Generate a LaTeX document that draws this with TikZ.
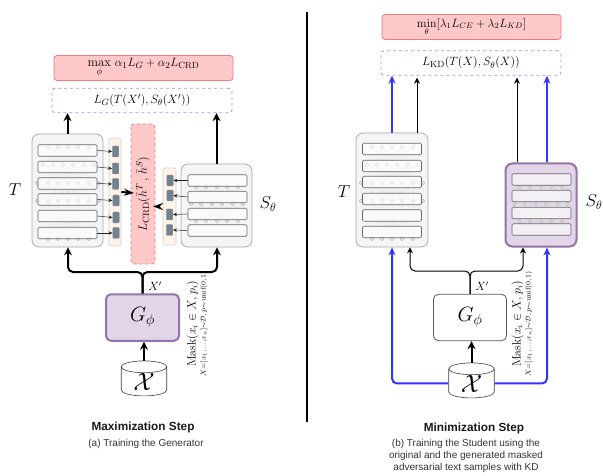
\documentclass[tikz,border=0pt]{standalone}
\usepackage{fontspec}
\usepackage{amsmath}
\usetikzlibrary{arrows.meta,shapes.geometric}
\newfontfamily\capfont{Liberation Sans}
\definecolor{lossred}{HTML}{FFC8C8}
\definecolor{lossedge}{HTML}{F27A7A}
\definecolor{gapedge}{HTML}{B38CE6}
\definecolor{purplefill}{HTML}{E1D5E7}
\definecolor{purpleedge}{HTML}{9673A6}
\definecolor{stripfill}{HTML}{FDF3E8}
\definecolor{stripedge}{HTML}{DDD0BE}
\definecolor{featfill}{HTML}{74828F}
\definecolor{featedge}{HTML}{8A97A3}
\definecolor{strongblue}{HTML}{3333FF}
\tikzset{
  lossbox/.style={draw=lossedge, fill=lossred, rounded corners=3pt, line width=0.8pt, minimum width=179pt, minimum height=25pt, inner sep=0pt},
  gapbox/.style={draw=gapedge, dashed, rounded corners=3pt, line width=0.8pt, minimum width=180pt, minimum height=24.5pt, inner sep=0pt},
  crdbox/.style={draw=lossedge, fill=lossred, dashed, rounded corners=3pt, line width=0.8pt, minimum width=140pt, minimum height=24pt, inner sep=0pt},
  netbox/.style={draw=black!35, fill=black!4, rounded corners=7pt, line width=0.7pt, inner sep=0pt},
  netboxS/.style={draw=purpleedge, fill=purplefill, rounded corners=7pt, line width=2pt, inner sep=0pt},
  layerbox/.style={draw=black!60, fill=white, fill opacity=0.6, rounded corners=1.2pt, line width=0.6pt, minimum width=59pt, minimum height=11.5pt, inner sep=0pt},
  stripbox/.style={draw=stripedge, fill=stripfill, rounded corners=1.5pt, line width=0.6pt, inner sep=0pt},
  featbox/.style={draw=featedge, fill=featfill, rounded corners=1pt, line width=0.4pt, minimum width=6.5pt, minimum height=11pt, inner sep=0pt},
  genbox/.style={rounded corners=5pt, minimum width=73pt, minimum height=46.5pt, inner sep=0pt},
  databox/.style={draw=black!75, cylinder, shape border rotate=90, aspect=0.55, fill=white, line width=0.6pt, minimum width=45.5pt, minimum height=35pt, inner sep=0pt},
  dotline/.style={draw=black!28, line width=0.5pt},
  dotlink/.style={draw=black!7, line width=0.3pt},
  thinarrow/.style={draw=black!85, line width=0.5pt, -{Stealth[length=4pt,width=3.5pt]}},
  bigarrow/.style={draw=black, line width=2pt, rounded corners=5pt, -{Stealth[length=8pt,width=8pt]}},
  flatarrow/.style={draw=black, line width=2pt, -{Stealth[length=10pt,width=7pt]}},
  midarrow/.style={draw=black, line width=1pt, rounded corners=5pt, -{Stealth[length=6pt,width=6pt]}},
  bluearrow/.style={draw=strongblue, line width=2pt, rounded corners=5pt, -{Stealth[length=8pt,width=7pt]}},
  captitle/.style={font=\capfont\fontsize{11.8}{14}\selectfont\bfseries, text=black!90},
  capline/.style={font=\capfont\fontsize{10}{12.2}\selectfont, text=black!80, align=center},
}
% faint network behind the layers
\newcommand{\dotrow}[2]{\foreach \x in {#2} {\draw[dotline] (\x,#1) circle (1.8pt);}}
\newcommand{\dotlinks}[4]{\foreach \x in {#2} {\foreach \xx in {#4} {\draw[dotlink] (\x,#1) -- (\xx,#3);}}}
\newcommand{\teachdots}[1]{
\begin{scope}[xshift=#1pt]
\dotlinks{147}{16,26,36,46,57}{165}{11,21,31,41,52,62}
\dotlinks{165}{11,21,31,41,52,62}{183}{5,16,26,36,46,57,67}
\dotlinks{183}{5,16,26,36,46,57,67}{201}{5,16,26,36,46,57,67}
\dotlinks{201}{5,16,26,36,46,57,67}{239}{16,26,36,46,57}
\dotrow{147}{16,26,36,46,57}
\dotrow{165}{11,21,31,41,52,62}
\dotrow{183}{5,16,26,36,46,57,67}
\dotrow{201}{5,16,26,36,46,57,67}
\dotrow{239}{16,26,36,46,57}
\end{scope}}
\newcommand{\studdots}[1]{
\begin{scope}[xshift=#1pt]
\dotlinks{187}{15,25,36,46,57}{204}{10,20,31,41,52,62}
\dotlinks{204}{10,20,31,41,52,62}{221}{15,25,36,46,57}
\dotrow{187}{15,25,36,46,57}
\dotrow{204}{10,20,31,41,52,62}
\dotrow{221}{15,25,36,46,57}
\end{scope}}
\newcommand{\maskterm}{\fontsize{12}{14}\selectfont$\mathrm{Mask}(x_i\in X,p_i)$\\[-2pt]\fontsize{10}{10}\selectfont$\scriptstyle X=[x_1,\ldots,x_n]\sim\mathcal{D},\,p\sim\mathrm{unif}(0,1)$}
\begin{document}
\begin{tikzpicture}[x=1pt,y=-1pt]
\useasboundingbox (0,0) rectangle (603,476);

% left panel
\node[lossbox] (maxloss) at (143.5,68) {\fontsize{12.8}{14}\selectfont$\displaystyle\max_{\phi}\,\alpha_1 L_G+\alpha_2 L_{\mathrm{CRD}}$};
\node[gapbox] (lgloss) at (142,100.5) {\fontsize{12.5}{14}\selectfont$L_G(T(X'),S_\theta(X'))$};

\node[netbox, minimum width=71pt, minimum height=113pt] (tnet) at (67.5,190.5) {};
\node[netbox, minimum width=71pt, minimum height=83pt] (snet) at (216.5,205.5) {};
\teachdots{32}
\studdots{181}

\node[layerbox] (ta) at (67.5,150.5) {};
\node[layerbox] (tb) at (67.5,167) {};
\node[layerbox] (tc) at (67.5,183.5) {};
\node[layerbox] (td) at (67.5,199.5) {};
\node[layerbox] (te) at (67.5,216) {};
\node[layerbox] (tf) at (67.5,233) {};

\node[layerbox] (sa) at (217.5,180.5) {};
\node[layerbox] (sb) at (217.5,197) {};
\node[layerbox] (sc) at (217.5,214) {};
\node[layerbox] (sd) at (217.5,230.5) {};

\node[stripbox, minimum width=12pt, minimum height=108pt] (lstrip) at (115,192) {};
\node[stripbox, minimum width=13pt, minimum height=77pt] (rstrip) at (169.5,206.5) {};

\node[featbox] (la) at (115.5,151.5) {};
\node[featbox] (lb) at (115.5,168.5) {};
\node[featbox] (lc) at (115.5,184) {};
\node[featbox] (ld) at (116,200.5) {};
\node[featbox] (le) at (116,217.5) {};
\node[featbox] (lf) at (116,233) {};

\node[featbox] (ra) at (170,180.5) {};
\node[featbox] (rb) at (170,195.5) {};
\node[featbox] (rc) at (169.5,214.5) {};
\node[featbox] (rd) at (169.5,230) {};

\node[crdbox, rotate=90] (crd) at (143,194) {\fontsize{13}{15}\selectfont$L_{\mathrm{CRD}}(\bar{h}^T\,,\,\bar{h}^S)$};

\node[genbox, draw=purpleedge, fill=purplefill, line width=2pt] (gen) at (142.5,317.5) {\fontsize{20}{24}\selectfont$G_\phi$};
\node[databox] (data) at (144,381.5) {\fontsize{24}{28}\selectfont$\mathcal{X}$};

\node (tlabel) at (15,190) {\fontsize{18}{22}\selectfont$T$};
\node (slabel) at (268,204) {\fontsize{18}{22}\selectfont$S_\theta$};
\node (xlabel) at (155,286) {\fontsize{11.5}{14}\selectfont$X'$};
\node[rotate=90, align=center, inner sep=0pt] (mask) at (197,324) {\maskterm};

\coordinate (busleft) at (68,272);
\coordinate (busright) at (217,272);
\coordinate (crdleft) at (134,193);
\coordinate (crdright) at (153,206.5);

\foreach \a/\b in {ta/la,tb/lb,tc/lc,td/ld,te/le,tf/lf} {\draw[thinarrow] (\a.east) -- (\b.west);}
\foreach \a/\b in {sa/ra,sb/rb,sc/rc,sd/rd} {\draw[thinarrow] (\a.west) -- (\b.east);}

\draw[bigarrow] (tnet.north) -- (tnet.north |- lgloss.south);
\draw[bigarrow] (snet.north) -- (snet.north |- lgloss.south);
\draw[flatarrow] (lstrip.east) -- (crdleft);
\draw[flatarrow, shorten <=4pt] (rstrip.west) -- (crdright);
\draw[bigarrow] (gen.north) |- (busleft) -- (busleft |- tnet.south);
\draw[bigarrow] (gen.north) |- (busright) -- (busright |- snet.south);
\draw[bigarrow] (data.north) -- (data.north |- gen.south);

\node[captitle] (maxstep) at (143,427) {Maximization Step};
\node[capline] (maxcap) at (146,444) {(a) Training the Generator};

% divider
\coordinate (divtop) at (307,12);
\coordinate (divbot) at (307,422);
\draw[line width=2pt] (divtop) -- (divbot);

% right panel
\node[lossbox] (minloss) at (471.5,27) {\fontsize{12}{14}\selectfont$\displaystyle\min_{\theta}[\lambda_1 L_{CE}+\lambda_2 L_{KD}]$};
\node[gapbox] (kdloss) at (471,63) {\fontsize{12.8}{14}\selectfont$L_{\mathrm{KD}}(T(X),S_\theta(X))$};

\node[netbox, minimum width=72pt, minimum height=114pt] (tnetb) at (392,190) {};
\teachdots{356}
\node[netboxS, minimum width=71pt, minimum height=83pt] (snetb) at (541,205) {};
\studdots{505}

\node[layerbox] (tba) at (392,149) {};
\node[layerbox] (tbb) at (392,166) {};
\node[layerbox] (tbc) at (392,182) {};
\node[layerbox] (tbd) at (392,199) {};
\node[layerbox] (tbe) at (392,215.5) {};
\node[layerbox] (tbf) at (392,232) {};

\node[layerbox] (sba) at (541.5,179.5) {};
\node[layerbox] (sbb) at (541.5,196) {};
\node[layerbox] (sbc) at (541.5,213) {};
\node[layerbox] (sbd) at (541.5,229.5) {};

\node[genbox, draw=black!65, fill=white, line width=0.8pt] (genb) at (470,317.5) {\fontsize{20}{24}\selectfont$G_\phi$};
\node[databox] (datab) at (471.5,383.5) {\fontsize{24}{28}\selectfont$\mathcal{X}$};

\node (tlabelb) at (344,192) {\fontsize{18}{22}\selectfont$T$};
\node (slabelb) at (594,202) {\fontsize{18}{22}\selectfont$S_\theta$};
\node (xlabelb) at (482,286) {\fontsize{11.5}{14}\selectfont$X'$};
\node[rotate=90, align=center, inner sep=0pt] (maskb) at (522,324) {\maskterm};

\coordinate (busleftb) at (410,271);
\coordinate (busrightb) at (523,271);

\draw[bluearrow] (tnetb.north) -- (tnetb.north |- kdloss.south);
\draw[midarrow, shorten >=2pt] ([xshift=25pt]tnetb.north) -- ([xshift=25pt]tnetb.north |- kdloss.south);
\draw[midarrow, shorten >=2pt] ([xshift=-24pt]snetb.north) -- ([xshift=-24pt]snetb.north |- kdloss.south);
\draw[bluearrow] ([xshift=6pt]snetb.north) -- ([xshift=6pt]snetb.north |- kdloss.south);

\draw[midarrow] (genb.north) |- (busleftb) -- (busleftb |- tnetb.south);
\draw[midarrow] (genb.north) |- (busrightb) -- (busrightb |- snetb.south);
\draw[bigarrow] (datab.north) -- (datab.north |- genb.south);
\draw[bluearrow] (datab.west) -| (tnetb.south);
\draw[bluearrow] (datab.east) -| ([xshift=6pt]snetb.south);

\node[captitle] (minstep) at (474,428) {Minimization Step};
\node[capline] (mincap) at (466,456) {(b) Training the Student using the\\original and the generated masked\\adversarial text samples with KD};
\end{tikzpicture}
\end{document}
